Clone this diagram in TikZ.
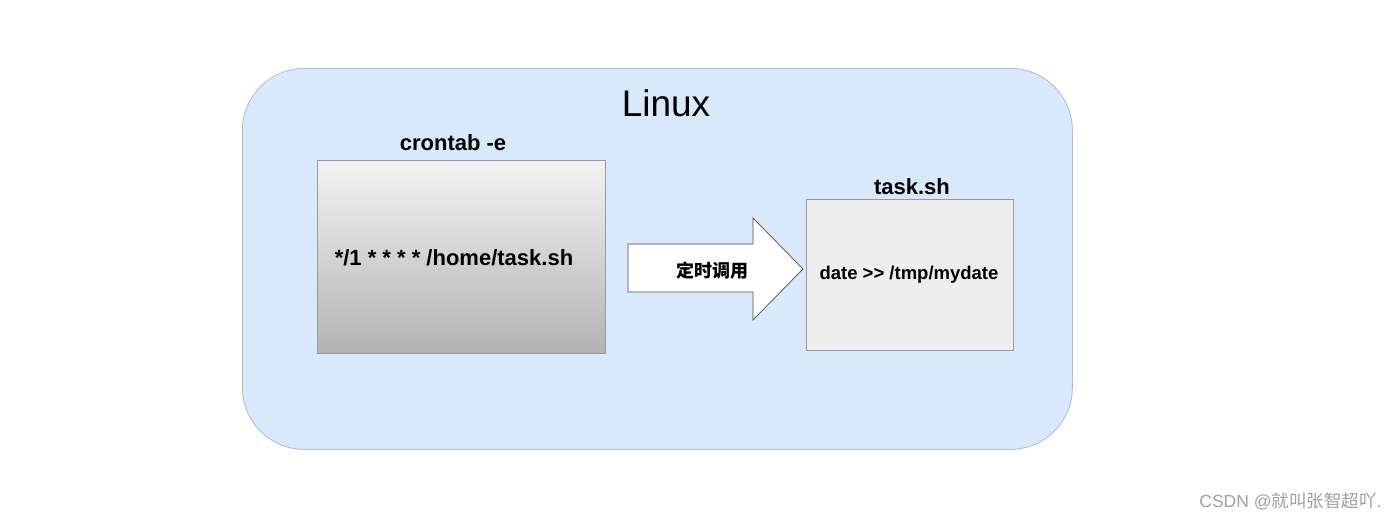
\documentclass[tikz,border=0pt]{standalone}
\usepackage{fontspec}
\setmainfont{Liberation Sans}
\newfontfamily\cjk{Noto Sans CJK SC}
\usetikzlibrary{shadings}
\definecolor{outerfill}{HTML}{DAE8FC}
\definecolor{outerdraw}{HTML}{A9BCD8}
\definecolor{boxdraw}{HTML}{999999}
\definecolor{gtop}{HTML}{F3F3F3}
\definecolor{gbot}{HTML}{B3B3B3}
\definecolor{rfill}{HTML}{EEEEEE}
\definecolor{wmark}{HTML}{A0A0A0}
\begin{document}
\begin{tikzpicture}[x=1pt,y=-1pt,
  titletext/.style={font=\bfseries\fontsize{22}{26}\selectfont, text=black},
  boxstyle/.style={draw=boxdraw, line width=0.8pt, inner sep=0pt, anchor=north west}]
\useasboundingbox (0,0) rectangle (1400,520);
\fill[white] (0,0) rectangle (1400,520);
% outer container
\node[draw=outerdraw, fill=outerfill, line width=0.8pt, rounded corners=62pt,
      minimum width=830pt, minimum height=381pt, anchor=north west, inner sep=0pt] (linux) at (242,68) {};
\node[font=\fontsize{37}{44}\selectfont] (linuxlbl) at (666,103) {Linux};
% crontab box
\node[boxstyle, top color=gtop, bottom color=gbot, minimum width=288pt, minimum height=193pt] (cron) at (317,160) {};
\node[titletext] (cronlbl) at (453,143) {crontab -e};
\node[font=\bfseries\fontsize{22}{26}\selectfont] (cronline) at (454,258) {*/1 * * * * /home/task.sh};
% task box
\node[boxstyle, fill=rfill, minimum width=207pt, minimum height=151pt] (task) at (806,199) {};
\node[titletext] (tasklbl) at (912,187) {task.sh};
\node[font=\bfseries\fontsize{18.5}{22}\selectfont] (taskline) at (909,275) {date >{}> /tmp/mydate};
% block arrow
\coordinate (a1) at (628,244);
\coordinate (a2) at (753,244);
\coordinate (a3) at (753,218);
\coordinate (tip) at (803,269);
\coordinate (a5) at (753,320);
\coordinate (a6) at (753,292);
\coordinate (a7) at (628,292);
\draw[fill=white, draw=black!70, line width=0.7pt, line join=miter] (a1) -- (a2) -- (a3) -- (tip) -- (a5) -- (a6) -- (a7) -- cycle;
\node[font=\cjk\bfseries\fontsize{18}{22}\selectfont] (arrowlbl) at (712,271) {定时调用};
% watermark
\node[font=\fontsize{17.5}{21}\selectfont, text=wmark, anchor=east] (wm) at (1385,501) {CSDN @{\cjk 就叫张智超吖}.};
\end{tikzpicture}
\end{document}
